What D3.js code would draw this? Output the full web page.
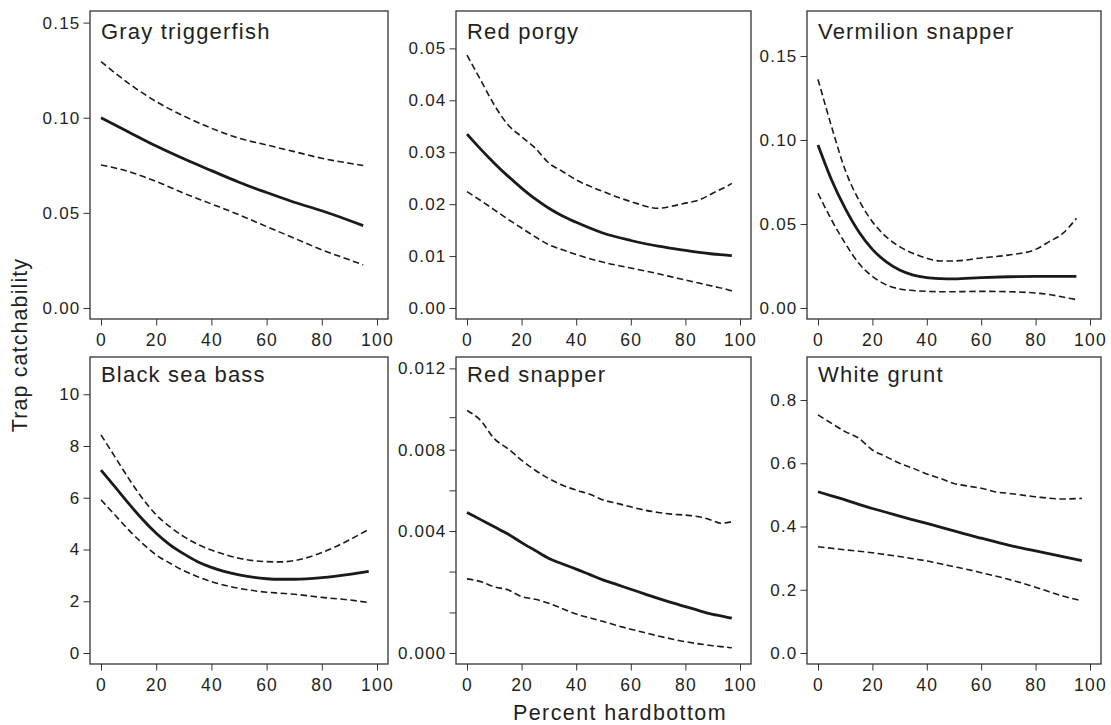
<!DOCTYPE html>
<html>
<head>
<meta charset="utf-8">
<script src="https://cdn.jsdelivr.net/npm/d3@7"></script>
<style>
body { margin: 0; background: #fff; }
text { font-family: "Liberation Sans", Arial, Helvetica, sans-serif; fill: #231f20; }
</style>
</head>
<body>
<div id="chart"></div>
<script>
// species names, in panel order
const species = ["Gray triggerfish", "Red porgy", "Vermilion snapper", "Black sea bass", "Red snapper", "White grunt"];
const xTicks = [0, 20, 40, 60, 80, 100];

// Gray triggerfish
const grayX   = [0, 10, 20, 30, 40, 50, 60, 70, 80, 90, 95];
const grayFit = [0.100, 0.0925, 0.0851, 0.0784, 0.0722, 0.0661, 0.0607, 0.0556, 0.0511, 0.0460, 0.0433];
const grayHi  = [0.1295, 0.1181, 0.1085, 0.1009, 0.0945, 0.0892, 0.0857, 0.0822, 0.0787, 0.0761, 0.0749];
const grayLo  = [0.0752, 0.0717, 0.0665, 0.0603, 0.0547, 0.0490, 0.0428, 0.0367, 0.0306, 0.0253, 0.0227];

// Red porgy
const porgyX   = [0, 5, 10, 15, 20, 25, 30, 35, 40, 50, 60, 70, 75, 80, 85, 90, 95, 97];
const porgyFit = [0.0335, 0.0306, 0.0279, 0.0254, 0.0231, 0.0210, 0.0192, 0.0177, 0.0165, 0.0144, 0.0130, 0.0119, 0.0115, 0.0111, 0.0107, 0.0104, 0.0102, 0.0101];
const porgyHi  = [0.0487, 0.0439, 0.0391, 0.0353, 0.0330, 0.0308, 0.0279, 0.0263, 0.0247, 0.0224, 0.0205, 0.0192, 0.0196, 0.0202, 0.0208, 0.0221, 0.0234, 0.0240];
const porgyLo  = [0.0224, 0.0207, 0.0189, 0.0171, 0.0154, 0.0137, 0.0122, 0.0112, 0.0103, 0.0088, 0.0077, 0.0066, 0.0060, 0.0054, 0.0048, 0.0042, 0.0036, 0.0033];

// Vermilion snapper
const vermX   = [0, 5, 10, 15, 20, 25, 30, 35, 40, 45, 50, 60, 70, 80, 85, 90, 95];
const vermFit = [0.0970, 0.0762, 0.0593, 0.0454, 0.0349, 0.0276, 0.0226, 0.0196, 0.0181, 0.0175, 0.0173, 0.0181, 0.0186, 0.0188, 0.0188, 0.0188, 0.0188];
const vermHi  = [0.1361, 0.1079, 0.0821, 0.0643, 0.0514, 0.0425, 0.0365, 0.0325, 0.0296, 0.0280, 0.0280, 0.0298, 0.0315, 0.0349, 0.0395, 0.0444, 0.0534];
const vermLo  = [0.0683, 0.0524, 0.0385, 0.0266, 0.0188, 0.0139, 0.0113, 0.0104, 0.0099, 0.0097, 0.0097, 0.0099, 0.0097, 0.0089, 0.0080, 0.0065, 0.0050];

// Black sea bass
const bassX   = [0, 5, 10, 15, 20, 25, 30, 35, 40, 50, 60, 65, 70, 80, 90, 97];
const bassFit = [7.07, 6.43, 5.78, 5.17, 4.63, 4.18, 3.83, 3.53, 3.31, 3.02, 2.87, 2.85, 2.85, 2.91, 3.04, 3.16];
const bassHi  = [8.43, 7.59, 6.75, 5.98, 5.34, 4.88, 4.50, 4.20, 3.98, 3.66, 3.53, 3.52, 3.57, 3.88, 4.37, 4.78];
const bassLo  = [5.92, 5.34, 4.76, 4.24, 3.79, 3.47, 3.18, 2.95, 2.76, 2.50, 2.35, 2.31, 2.27, 2.15, 2.05, 1.95];

// Red snapper
const snapX   = [0, 5, 10, 15, 20, 25, 30, 35, 40, 45, 50, 55, 60, 65, 70, 75, 80, 85, 90, 93, 97];
const snapFit = [0.00491, 0.00456, 0.00421, 0.00390, 0.00362, 0.00336, 0.00310, 0.00292, 0.00275, 0.00257, 0.00239, 0.00224, 0.00209, 0.00194, 0.00179, 0.00165, 0.00152, 0.00139, 0.00127, 0.00122, 0.00114];
const snapHi  = [0.00993, 0.00944, 0.00854, 0.00805, 0.00748, 0.00699, 0.00658, 0.00625, 0.00601, 0.00581, 0.00552, 0.00536, 0.00519, 0.00503, 0.00491, 0.00483, 0.00478, 0.00470, 0.00451, 0.00438, 0.00446];
const snapLo  = [0.00243, 0.00234, 0.00217, 0.00207, 0.00185, 0.00176, 0.00163, 0.00145, 0.00128, 0.00115, 0.00103, 0.00090, 0.00078, 0.00067, 0.00056, 0.00046, 0.00037, 0.00030, 0.00024, 0.00021, 0.00017];

// White grunt
const gruntX   = [0, 5, 10, 15, 20, 25, 30, 35, 40, 45, 50, 55, 60, 65, 70, 80, 90, 97];
const gruntFit = [0.510, 0.497, 0.484, 0.470, 0.457, 0.445, 0.433, 0.421, 0.410, 0.398, 0.386, 0.374, 0.363, 0.352, 0.341, 0.323, 0.305, 0.292];
const gruntHi  = [0.753, 0.726, 0.700, 0.679, 0.642, 0.621, 0.600, 0.584, 0.566, 0.552, 0.536, 0.528, 0.521, 0.510, 0.505, 0.494, 0.487, 0.489];
const gruntLo  = [0.336, 0.331, 0.326, 0.322, 0.317, 0.311, 0.305, 0.298, 0.291, 0.282, 0.273, 0.264, 0.254, 0.244, 0.233, 0.208, 0.180, 0.165];

// y tick values per panel
const grayTicks  = [0, 0.05, 0.10, 0.15];
const porgyTicks = [0, 0.01, 0.02, 0.03, 0.04, 0.05];
const vermTicks  = [0, 0.05, 0.10, 0.15];
const bassTicks  = [0, 2, 4, 6, 8, 10];
const snapTicks  = [0, 0.004, 0.008, 0.012];
const snapMinor  = [0.00133, 0.00267, 0.006, 0.0096];
const gruntTicks = [0, 0.2, 0.4, 0.6, 0.8];

const panels = [
  {x: grayX,  fit: grayFit,  hi: grayHi,  lo: grayLo,  ticks: grayTicks,  minor: [], fmt: '.2f', top: 0.1561},
  {x: porgyX, fit: porgyFit, hi: porgyHi, lo: porgyLo, ticks: porgyTicks, minor: [], fmt: '.2f', top: 0.0572},
  {x: vermX,  fit: vermFit,  hi: vermHi,  lo: vermLo,  ticks: vermTicks,  minor: [], fmt: '.2f', top: 0.1768},
  {x: bassX,  fit: bassFit,  hi: bassHi,  lo: bassLo,  ticks: bassTicks,  minor: [], fmt: 'd',   top: 11.44},
  {x: snapX,  fit: snapFit,  hi: snapHi,  lo: snapLo,  ticks: snapTicks,  minor: snapMinor, fmt: '.3f', top: 0.01256, brk: 0.004},
  {x: gruntX, fit: gruntFit, hi: gruntHi, lo: gruntLo, ticks: gruntTicks, minor: [], fmt: '.1f', top: 0.936}
];

const svg = d3.select('#chart').append('svg').attr('width', 1111).attr('height', 725);

// panel boxes
const colL = [90, 456, 807], colR = [388, 751, 1101];
const rowT = [11, 357], rowB = [319, 664];
const titleDy = [28, 25];

panels.forEach((p, i) => {
  const c = i % 3, r = Math.floor(i / 3);
  const L = colL[c], R = colR[c], T = rowT[r], B = rowB[r];
  const x = d3.scaleLinear().domain([0, 100]).range([L + 11, R - 11]);
  // red snapper axis is stretched below 0.004
  const y = p.brk
    ? d3.scaleLinear().domain([0, p.brk, p.top]).range([B - 11, B - 133, T])
    : d3.scaleLinear().domain([0, p.top]).range([B - 11, T]);

  const g = svg.append('g');

  // x axis
  g.append('g')
    .attr('transform', `translate(0,${B})`)
    .call(d3.axisBottom(x).tickValues(xTicks).tickSize(6.5).tickPadding(8).tickFormat(d3.format('d')))
    .call(a => a.select('.domain').remove())
    .attr('font-size', null).attr('font-family', null).attr('color', '#333')
    .selectAll('text').style('font-size', '17.5px').style('letter-spacing', '1.2px');

  // y axis
  const fmt = d3.format(p.fmt);
  const labelled = new Set(p.ticks);
  g.append('g')
    .attr('transform', `translate(${L},0)`)
    .call(d3.axisLeft(y).tickValues(p.ticks.concat(p.minor)).tickSize(6.5).tickPadding(3)
      .tickFormat(d => labelled.has(d) ? fmt(d) : ''))
    .call(a => a.select('.domain').remove())
    .attr('font-size', null).attr('font-family', null).attr('color', '#333')
    .selectAll('text').style('font-size', '17px').style('letter-spacing', '1.2px');

  // box
  g.append('rect')
    .attr('x', L).attr('y', T).attr('width', R - L).attr('height', B - T)
    .attr('fill', 'none').attr('stroke', '#333').attr('stroke-width', 1.3);

  const line = vals => d3.line()
    .x((d, k) => x(p.x[k]))
    .y(d => y(d))
    .curve(d3.curveMonotoneX)(vals);

  g.append('path').attr('d', line(p.hi)).attr('fill', 'none')
    .attr('stroke', '#1a1a1a').attr('stroke-width', 1.6).attr('stroke-dasharray', '6.5,3.5');
  g.append('path').attr('d', line(p.lo)).attr('fill', 'none')
    .attr('stroke', '#1a1a1a').attr('stroke-width', 1.6).attr('stroke-dasharray', '6.5,3.5');
  g.append('path').attr('d', line(p.fit)).attr('fill', 'none')
    .attr('stroke', '#1a1a1a').attr('stroke-width', 2.8);

  g.append('text')
    .attr('x', L + 11).attr('y', T + titleDy[r])
    .style('font-size', '22px').style('letter-spacing', '1.2px')
    .text(species[i]);
});

svg.append('text')
  .attr('x', 620).attr('y', 720)
  .attr('text-anchor', 'middle')
  .style('font-size', '21.5px').style('letter-spacing', '1.4px')
  .text('Percent hardbottom');

svg.append('text')
  .attr('transform', 'translate(27,345) rotate(-90)')
  .attr('text-anchor', 'middle')
  .style('font-size', '21.5px').style('letter-spacing', '1.1px')
  .text('Trap catchability');
</script>
</body>
</html>
